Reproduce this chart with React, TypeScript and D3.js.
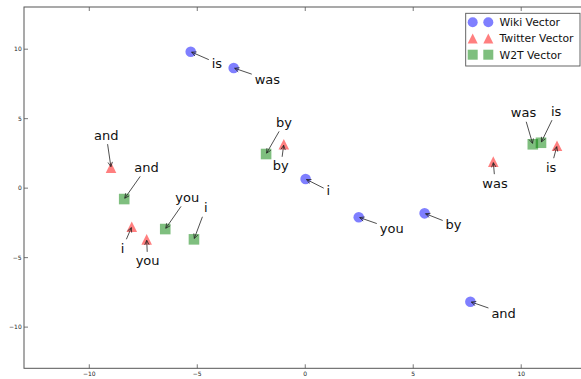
import React, { useEffect, useRef } from "react";
import * as d3 from "d3";

// tick values
const xTicks = [-10, -5, 0, 5, 10];
const yTicks = [-10, -5, 0, 5, 10];

// Wiki vector points
const wikiWords = ["is", "was", "i", "you", "by", "and"];
const wikiX = [-5.28, -3.29, 0.04, 2.5, 5.55, 7.67];
const wikiY = [9.78, 8.61, 0.62, -2.13, -1.85, -8.21];

// Twitter vector points
const twitterWords = ["and", "i", "you", "by", "was", "is"];
const twitterX = [-8.97, -8.01, -7.32, -0.97, 8.73, 11.68];
const twitterY = [1.44, -2.81, -3.72, 3.12, 1.87, 3.02];

// W2T vector points
const w2tWords = ["and", "you", "i", "by", "was", "is"];
const w2tX = [-8.36, -6.46, -5.13, -1.79, 10.56, 10.94];
const w2tY = [-0.82, -2.98, -3.72, 2.42, 3.12, 3.23];

const legendNames = ["Wiki Vector", "Twitter Vector", "W2T Vector"];

// label placement (pixel offsets from the point to the text origin)
const wikiOffsets = wikiWords.map(() => [21, 16]);
const twitterOffsets = twitterWords.map((w) => (w === "and" ? [-17, -28] : [-11, 26]));
const w2tOffsets = w2tWords.map((w) => (w === "was" ? [-22, -27] : [10, -27]));

const FONT = "'DejaVu Sans', sans-serif";
const MS = 5.3; // half marker size

function markerPath(shape: string, cx: number, cy: number, h: number) {
  if (shape === "circle") {
    return `M${cx - h},${cy}a${h},${h} 0 1,0 ${2 * h},0a${h},${h} 0 1,0 ${-2 * h},0Z`;
  }
  if (shape === "triangle") {
    return `M${cx},${cy - h}L${cx - h},${cy + h}L${cx + h},${cy + h}Z`;
  }
  return `M${cx - h},${cy - h}H${cx + h}V${cy + h}H${cx - h}Z`;
}

export default function App() {
  const svgRef = useRef<SVGSVGElement>(null);

  useEffect(() => {
    const svg = d3.select(svgRef.current);
    svg.selectAll("*").remove();

    const left = 24, top = 7, bottom = 368.3, right = 585.5;
    const x = d3.scaleLinear().domain([-13, 13]).range([left, right]);
    const y = d3.scaleLinear().domain([-13, 13]).range([bottom, top]);

    const series = [
      { name: legendNames[0], words: wikiWords, xs: wikiX, ys: wikiY, color: "blue", shape: "circle", offsets: wikiOffsets },
      { name: legendNames[1], words: twitterWords, xs: twitterX, ys: twitterY, color: "red", shape: "triangle", offsets: twitterOffsets },
      { name: legendNames[2], words: w2tWords, xs: w2tX, ys: w2tY, color: "#008000", shape: "square", offsets: w2tOffsets },
    ];

    // axes
    const gx = svg.append("g").attr("transform", `translate(0,${bottom})`)
      .call(d3.axisBottom(x).tickValues(xTicks).tickSize(-4).tickSizeOuter(0).tickPadding(3.1));
    const gxt = svg.append("g").attr("transform", `translate(0,${top})`)
      .call(d3.axisTop(x).tickValues(xTicks).tickSize(-4).tickSizeOuter(0).tickFormat(() => ""));
    const gy = svg.append("g").attr("transform", `translate(${left},0)`)
      .call(d3.axisLeft(y).tickValues(yTicks).tickSize(-4).tickSizeOuter(0).tickPadding(2.3));
    [gx, gxt, gy].forEach((g) => {
      g.select(".domain").remove();
      g.selectAll(".tick line").attr("stroke", "#555").attr("stroke-width", 0.8);
      g.selectAll(".tick text").attr("font-family", FONT).attr("font-size", 6).attr("fill", "#222");
    });

    svg.append("rect")
      .attr("x", left).attr("y", top)
      .attr("width", right - left).attr("height", bottom - top)
      .attr("fill", "none").attr("stroke", "#555").attr("stroke-width", 1);

    // markers
    series.forEach((s) => {
      svg.append("g").selectAll("path")
        .data(s.words.map((w, i) => i))
        .join("path")
        .attr("d", (i) => markerPath(s.shape, x(s.xs[i]), y(s.ys[i]), MS))
        .attr("fill", s.color)
        .attr("fill-opacity", 0.5);
    });

    // annotations
    const ann = svg.append("g");
    series.forEach((s) => {
      s.words.forEach((w, i) => {
        const px = x(s.xs[i]);
        const py = y(s.ys[i]);
        const [dx, dy] = s.offsets[i];
        const t = ann.append("text")
          .attr("x", px + dx).attr("y", py + dy)
          .attr("font-family", FONT).attr("font-size", 13)
          .attr("fill", "#111")
          .text(w);
        const bb = (t.node() as SVGTextElement).getBBox();
        const pad = 2;
        const cx = bb.x + bb.width / 2;
        const cy = bb.y + bb.height / 2;
        const hw = bb.width / 2 + pad;
        const hh = bb.height / 2 + pad - 1.5;
        const vx = px - cx, vy = py - cy;
        const tt = Math.min(vx !== 0 ? hw / Math.abs(vx) : Infinity, vy !== 0 ? hh / Math.abs(vy) : Infinity);
        let sx = cx + vx * tt, sy = cy + vy * tt;
        const len = Math.hypot(px - sx, py - sy);
        const ux = (px - sx) / len, uy = (py - sy) / len;
        sx += ux * 1; sy += uy * 1;
        const ex = px - ux * 1, ey = py - uy * 1;
        const hl = 4.5, hwid = 2.2;
        const nx = -uy, ny = ux;
        ann.append("path")
          .attr("d", `M${sx},${sy}L${ex},${ey}M${ex - ux * hl + nx * hwid},${ey - uy * hl + ny * hwid}L${ex},${ey}L${ex - ux * hl - nx * hwid},${ey - uy * hl - ny * hwid}`)
          .attr("fill", "none").attr("stroke", "#222").attr("stroke-width", 0.8);
      });
    });

    // legend
    const lg = svg.append("g");
    lg.append("rect")
      .attr("x", 465.7).attr("y", 13.3).attr("width", 114.3).attr("height", 52.7)
      .attr("fill", "#fff").attr("stroke", "#555").attr("stroke-width", 0.9);
    series.forEach((s, k) => {
      const ry = 22.3 + k * 16.2;
      [472.7, 488.3].forEach((mx) => {
        lg.append("path")
          .attr("d", markerPath(s.shape, mx, ry, 5))
          .attr("fill", s.color).attr("fill-opacity", 0.5);
      });
      lg.append("text")
        .attr("x", 499.5).attr("y", ry + 3.9)
        .attr("font-family", FONT).attr("font-size", 10.8)
        .attr("fill", "#111")
        .text(s.name);
    });
  }, []);

  return (
    <svg
      ref={svgRef}
      width={581}
      height={379}
      style={{ position: "absolute", left: 0, top: 0, background: "#fff" }}
    />
  );
}
